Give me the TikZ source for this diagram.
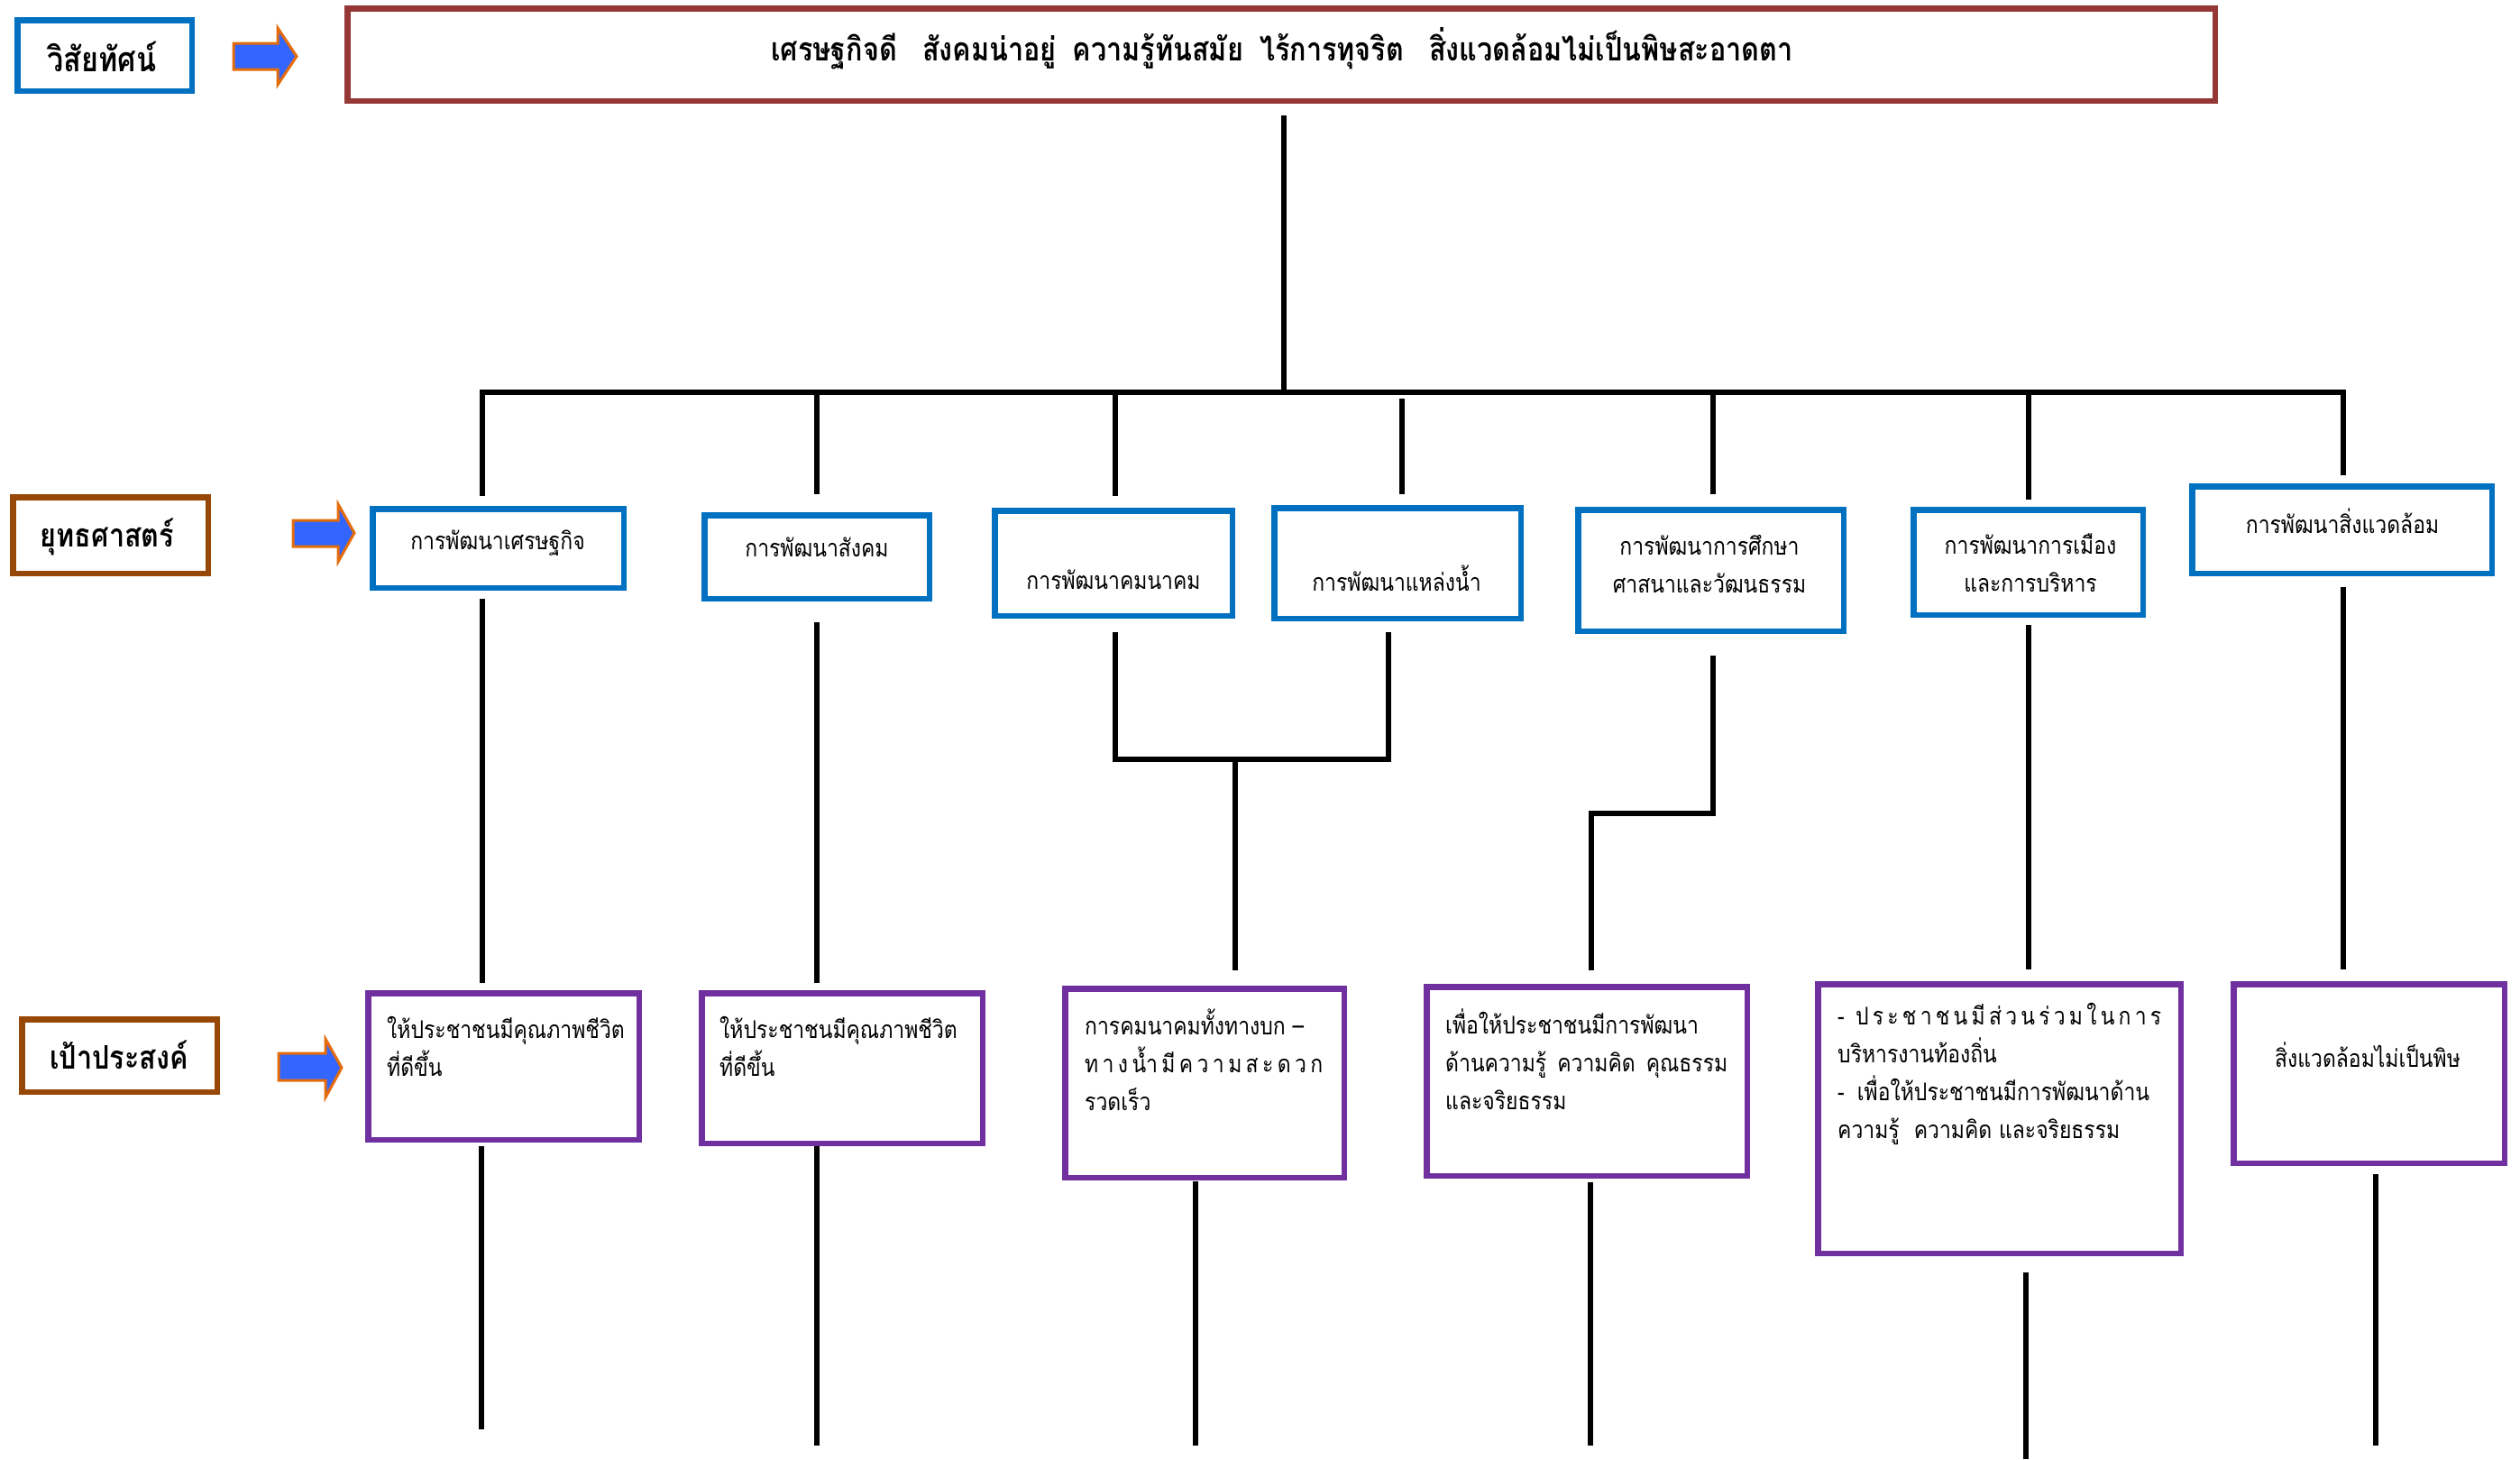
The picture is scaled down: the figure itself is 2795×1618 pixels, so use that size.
\documentclass[tikz,border=0pt]{standalone}
\usepackage{fontspec}
\newfontfamily\thai[Script=Thai,FakeStretch=0.85]{Loma}
\definecolor{vblue}{HTML}{0070C0}
\definecolor{gpurple}{HTML}{7030A0}
\definecolor{lbrown}{HTML}{984806}
\definecolor{vred}{HTML}{953735}
\definecolor{ablue}{HTML}{3366FF}
\definecolor{aorange}{HTML}{E46C0A}
\begin{document}
\begin{tikzpicture}[x=1pt,y=-1pt,
  box/.style={rectangle, draw, line width=6.5pt, fill=white, inner sep=0pt},
  sbox/.style={box, draw=vblue},
  gbox/.style={box, draw=gpurple},
  lbox/.style={box, draw=lbrown},
  conn/.style={line width=6.5pt, draw=black},
  arr/.style={fill=ablue, draw=aorange, line width=3pt, line join=miter},
  txtS/.style={font=\thai\fontsize{27}{42}\selectfont, inner sep=0pt, align=center},
  txtG/.style={font=\thai\fontsize{27}{42}\selectfont, inner sep=0pt, align=left, anchor=west},
  lbl/.style={font=\thai\bfseries\fontsize{36}{44}\selectfont, inner sep=0pt},
  vtxt/.style={font=\thai\bfseries\fontsize{36}{44}\selectfont, inner sep=0pt}]
\fill[white] (0,0) rectangle (2795,1618);
\useasboundingbox (0,0) rectangle (2795,1618);

% ---- row labels ----
\node[box, draw=vblue, minimum width=193.5pt, minimum height=78.5pt] (lv) at (116,61.5) {};
\node[lbl, font=\thai\bfseries\fontsize{38}{44}\selectfont] (lvt) at (113,63) {วิสัยทัศน์};
\node[lbox, minimum width=216.5pt, minimum height=84.5pt] (ls) at (122.5,593.5) {};
\node[lbl] (lst) at (119,595) {ยุทธศาสตร์};
\node[lbox, minimum width=216.5pt, minimum height=80.5pt] (lg) at (132.5,1170.5) {};
\node[lbl] (lgt) at (132,1170) {เป้าประสงค์};

% ---- arrows ----
\draw[arr] (259,48) -- (308,48) -- (308,31) -- (329,62.5) -- (308,94) -- (308,77) -- (259,77) -- cycle;
\draw[arr] (325,577) -- (375,577) -- (375,559) -- (393,591) -- (375,623) -- (375,606) -- (325,606) -- cycle;
\draw[arr] (309,1168) -- (361,1168) -- (361,1152) -- (379,1184) -- (361,1217) -- (361,1198) -- (309,1198) -- cycle;

% ---- vision ----
\node[box, draw=vred, minimum width=2071.5pt, minimum height=102.5pt] (vis) at (1421,60.5) {};
\node[vtxt] (vist) at (1422,54) {เศรษฐกิจดี\hspace{28pt}สังคมน่าอยู่\hspace{18pt}ความรู้ทันสมัย\hspace{18pt}ไร้การทุจริต\hspace{28pt}สิ่งแวดล้อมไม่เป็นพิษสะอาดตา};

% ---- strategies ----
\node[sbox, minimum width=278.5pt, minimum height=87.5pt] (s1) at (552.5,608) {};
\node[txtS] (s1t) at (552,602) {การพัฒนาเศรษฐกิจ};
\node[sbox, minimum width=249.5pt, minimum height=92.5pt] (s2) at (906,617.5) {};
\node[txtS] (s2t) at (906,607) {การพัฒนาสังคม};
\node[sbox, minimum width=263.5pt, minimum height=116.5pt] (s3) at (1235,624.5) {};
\node[txtS] (s3t) at (1235,643) {การพัฒนาคมนาคม};
\node[sbox, minimum width=273.5pt, minimum height=122.5pt] (s4) at (1550,624.5) {};
\node[txtS] (s4t) at (1549,641) {การพัฒนาแหล่งน้ำ};
\node[sbox, minimum width=294.5pt, minimum height=134.5pt] (s5) at (1897.5,632.5) {};
\node[txtS] (s5t) at (1896,625) {การพัฒนาการศึกษา\\ศาสนาและวัฒนธรรม};
\node[sbox, minimum width=254.5pt, minimum height=116.5pt] (s6) at (2249.5,623.5) {};
\node[txtS] (s6t) at (2252,624.5) {การพัฒนาการเมือง\\และการบริหาร};
\node[sbox, minimum width=332.5pt, minimum height=96.5pt] (s7) at (2597.5,587.5) {};
\node[txtS] (s7t) at (2598,578) {การพัฒนาสิ่งแวดล้อม};

% ---- goals ----
\node[gbox, minimum width=300.5pt, minimum height=162.5pt] (g1) at (558.5,1182.5) {};
\node[txtG] (g1t) at (429,1160) {ให้ประชาชนมีคุณภาพชีวิต\\ที่ดีขึ้น};
\node[gbox, minimum width=311.5pt, minimum height=166.5pt] (g2) at (934,1184.5) {};
\node[txtG] (g2t) at (798,1160) {ให้ประชาชนมีคุณภาพชีวิต\\ที่ดีขึ้น};
\node[gbox, minimum width=309.5pt, minimum height=209.5pt] (g3) at (1336,1201) {};
\node[txtG] (g3t) at (1203,1175) {การคมนาคมทั้งทางบก –\\\makebox[264pt][s]{ท\hfill า\hfill ง\hfill น้ำ\hfill มี\hfill ค\hfill ว\hfill า\hfill ม\hfill ส\hfill ะ\hfill ด\hfill ว\hfill ก}\\รวดเร็ว};
\node[gbox, minimum width=355.5pt, minimum height=209.5pt] (g4) at (1760,1199) {};
\node[txtG] (g4t) at (1603,1175) {เพื่อให้ประชาชนมีการพัฒนา\\ด้านความรู้\hspace{12pt}ความคิด\hspace{12pt}คุณธรรม\\และจริยธรรม};
\node[gbox, minimum width=402.5pt, minimum height=298.5pt] (g5) at (2217.5,1240.5) {};
\node[txtG] (g5t) at (2038,1191) {\makebox[359pt][s]{-\hspace{8pt}\hfill ป\hfill ร\hfill ะ\hfill ช\hfill า\hfill ช\hfill น\hfill มี\hfill ส่\hfill ว\hfill น\hfill ร่\hfill ว\hfill ม\hfill ใ\hfill น\hfill ก\hfill า\hfill ร}\\บริหารงานท้องถิ่น\\-\hspace{14pt}เพื่อให้ประชาชนมีการพัฒนาด้าน\\ความรู้\hspace{16pt}ความคิด และจริยธรรม};
\node[gbox, minimum width=300.5pt, minimum height=198.5pt] (g6) at (2627.5,1190.5) {};
\node[txtG, anchor=center] (g6t) at (2626,1170) {สิ่งแวดล้อมไม่เป็นพิษ};

% ---- bus ----
\coordinate (bc) at (1424,435);
\coordinate (b1) at (535,435);
\coordinate (b2) at (906,435);
\coordinate (b3) at (1237,435);
\coordinate (b4) at (1555,435);
\coordinate (b5) at (1900,435);
\coordinate (b6) at (2250,435);
\coordinate (b7) at (2599,435);
\draw[conn, shorten <=13pt] (vis.south -| bc) -- (bc);
\draw[conn, shorten <=11pt, shorten >=9pt] (b1 |- s1.north) -- (b1) -- (b7) -- (b7 |- s7.north);
\draw[conn, shorten >=20pt] (b2) -- (b2 |- s2.north);
\draw[conn, shorten >=13pt] (b3) -- (b3 |- s3.north);
\draw[conn, shorten <=7pt, shorten >=12pt] (b4) -- (b4 |- s4.north);
\draw[conn, shorten >=14pt] (b5) -- (b5 |- s5.north);
\draw[conn, shorten >=8pt] (b6) -- (b6 |- s6.north);

% ---- strategy to goal ----
\draw[conn, shorten <=9pt, shorten >=8pt] (b1 |- s1.south) -- (b1 |- g1.north);
\draw[conn, shorten <=23pt, shorten >=8pt] (b2 |- s2.south) -- (b2 |- g2.north);
\coordinate (j3) at (1237,842);
\coordinate (j4) at (1540,842);
\coordinate (j34) at (1370,842);
\draw[conn, shorten <=15pt, shorten >=12pt] (j3 |- s3.south) -- (j3) -- (j4) -- (j4 |- s4.south);
\draw[conn, shorten >=17pt] (j34) -- (j34 |- g3.north);
\coordinate (j5) at (1900,902);
\coordinate (j5b) at (1765,902);
\draw[conn, shorten <=24pt, shorten >=15pt] (j5 |- s5.south) -- (j5) -- (j5b) -- (j5b |- g4.north);
\draw[conn, shorten <=8pt, shorten >=13pt] (b6 |- s6.south) -- (b6 |- g5.north);
\draw[conn, shorten <=12pt, shorten >=13pt] (b7 |- s7.south) -- (b7 |- g6.north);

% ---- below goals ----
\coordinate (e1) at (534,1585);
\coordinate (e2) at (906,1603);
\coordinate (e3) at (1326,1603);
\coordinate (e4) at (1764,1603);
\coordinate (e5) at (2247,1618);
\coordinate (e6) at (2635,1603);
\draw[conn, shorten <=4pt] (e1 |- g1.south) -- (e1);
\draw[conn] (e2 |- g2.south) -- (e2);
\draw[conn, shorten <=1pt] (e3 |- g3.south) -- (e3);
\draw[conn, shorten <=4pt] (e4 |- g4.south) -- (e4);
\draw[conn, shorten <=18pt] (e5 |- g5.south) -- (e5);
\draw[conn, shorten <=9pt] (e6 |- g6.south) -- (e6);
\end{tikzpicture}
\end{document}
